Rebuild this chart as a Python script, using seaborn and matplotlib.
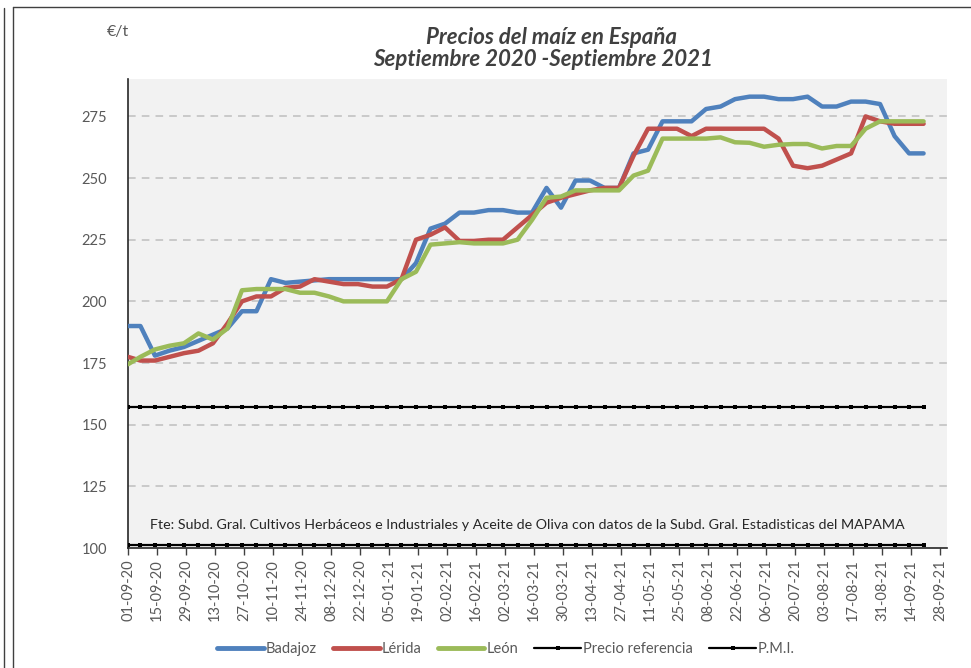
import numpy as np
import pandas as pd
import matplotlib
matplotlib.use("Agg")
import matplotlib.pyplot as plt
import matplotlib.dates as mdates
from matplotlib.lines import Line2D
import seaborn as sns
from datetime import datetime, timedelta

# ---------------- data ----------------
dates = [datetime(2020, 9, 1)] + [datetime(2020, 9, 7) + timedelta(days=7 * k) for k in range(55)]

badajoz = [190, 190, 178, 180, 181.5, 184, 186.5, 189, 196, 196,
           209, 207.5, 208, 208.5, 209, 209, 209, 209, 209, 209,
           215.5, 229.5, 231.5, 236, 236, 237, 237, 236, 236, 246,
           238, 249, 249, 246, 246, 260, 261.5, 273, 273, 273,
           278, 279, 282, 283, 283, 282, 282, 283, 279, 279,
           281, 281, 280, 267, 260, 260]

lerida = [177.5, 176, 176, 177.5, 179, 180, 183, 191, 200, 202,
          202, 205.5, 206, 209, 208, 207, 207, 206, 206, 209,
          225, 227, 230, 224.5, 224.5, 225, 225, 230, 235, 240,
          242, 243.5, 245, 246, 246, 259, 270, 270, 270, 267,
          270, 270, 270, 270, 270, 266, 255, 254, 255, 257.5,
          260, 275, 273, 272, 272, 272]

leon = [174.5, 177.5, 180.5, 182, 183, 187, 184.5, 189, 204.5, 205,
        205, 205, 203.5, 203.5, 202, 200, 200, 200, 200, 209,
        212, 223, 223.5, 224, 223.5, 223.5, 223.5, 225, 233, 242,
        242.5, 245, 245, 245, 245, 251, 253, 266, 266, 266,
        266, 266.5, 264.5, 264.3, 262.7, 263.5, 263.8, 263.8, 262, 263,
        263, 270, 273, 273, 273, 273]

precio_referencia = 157.0
pmi = 101.3

series_names = ["Badajoz", "Lérida", "León"]
series_values = [badajoz, lerida, leon]
series_colors = ["#4F81BD", "#C0504D", "#9BBB59"]

y_ticks = [100, 125, 150, 175, 200, 225, 250, 275]
x_tick_dates = [datetime(2020, 9, 1) + timedelta(days=14 * i) for i in range(29)]

title_lines = ["Precios del maíz en España", "Septiembre 2020 -Septiembre 2021"]
unit_label = "€/t"
source_text = ("Fte: Subd. Gral. Cultivos Herbáceos e Industriales y Aceite de Oliva "
               "con datos de la Subd. Gral. Estadisticas del MAPAMA")

# ---------------- figure ----------------
sns.set_style("white")
plt.rcParams["font.family"] = ["Lato", "DejaVu Sans"]
TXT = "#595959"

W, H, DPI = 971, 668, 100
fig = plt.figure(figsize=(W / DPI, H / DPI), dpi=DPI)
fig.patch.set_facecolor("white")

left, right, top, bottom = 128, 947, 79.4, 548
ax = fig.add_axes([left / W, 1 - bottom / H, (right - left) / W, (bottom - top) / H])
ax.set_facecolor("#F2F2F2")

rows = []
for name, vals in zip(series_names, series_values):
    for d, v in zip(dates, vals):
        rows.append({"fecha": d, "precio": v, "serie": name})
df = pd.DataFrame(rows)

sns.lineplot(data=df, x="fecha", y="precio", hue="serie", hue_order=series_names,
             palette=series_colors, linewidth=3.2, ax=ax, legend=False,
             estimator=None, errorbar=None, zorder=3)

ref_df = pd.DataFrame({"fecha": dates,
                       "ref": [precio_referencia] * len(dates),
                       "pmi": [pmi] * len(dates)})
sns.lineplot(data=ref_df, x="fecha", y="ref", color="black", linewidth=1.6,
             marker="s", markersize=2.6, markeredgewidth=0, ax=ax, zorder=3)
sns.lineplot(data=ref_df, x="fecha", y="pmi", color="black", linewidth=1.6,
             marker="s", markersize=2.6, markeredgewidth=0, ax=ax, zorder=3)

ax.set_ylim(100, 290)
ax.set_xlim(datetime(2020, 9, 1), datetime(2020, 9, 1) + timedelta(days=395.3))

ax.set_yticks(y_ticks)
ax.set_yticklabels([str(t) for t in y_ticks])
for t in y_ticks[1:]:
    ax.axhline(t, color="#BFBFBF", linestyle=(0, (5, 4)), linewidth=1.1, zorder=1)

ax.set_xticks(x_tick_dates)
ax.set_xticklabels([d.strftime("%d-%m-%y") for d in x_tick_dates], rotation=90)
ax.tick_params(axis="x", direction="out", length=5, width=1, color="#404040",
               labelsize=10.5, labelcolor=TXT, pad=3, bottom=True)
ax.tick_params(axis="y", length=0, labelsize=10.5, labelcolor=TXT, pad=15)

ax.set_xlabel("")
ax.set_ylabel("")
for s in ["top", "right"]:
    ax.spines[s].set_visible(False)
for s in ["left", "bottom"]:
    ax.spines[s].set_color("#262626")
    ax.spines[s].set_linewidth(1.2)

ax.text(0.487, 109.5, source_text, transform=ax.get_yaxis_transform(),
        ha="center", va="center", fontsize=10.3, color="#262626")

# titles
fig.text(551 / W, 1 - 37 / H, title_lines[0], ha="center", va="center",
         fontsize=16, fontweight="bold", fontstyle="italic", color="#404040")
fig.text(543 / W, 1 - 60 / H, title_lines[1], ha="center", va="center",
         fontsize=16, fontweight="bold", fontstyle="italic", color="#404040")
fig.text(118 / W, 1 - 32 / H, unit_label, ha="center", va="center",
         fontsize=11.5, color=TXT)

# legend
handles = [Line2D([0], [0], color=c, linewidth=3.5) for c in series_colors]
handles += [Line2D([0], [0], color="black", linewidth=1.6, marker="s",
                   markersize=2.6, markeredgewidth=0) for _ in range(2)]
labels = series_names + ["Precio referencia", "P.M.I."]
leg = fig.legend(handles, labels, loc="center", bbox_to_anchor=(506 / W, 1 - 649 / H),
                 ncol=5, frameon=False, fontsize=10.5, handlelength=3.2,
                 handletextpad=0.15, columnspacing=1.1)
for t in leg.get_texts():
    t.set_color(TXT)

# outer frames
fc = "#404040"
fig.add_artist(Line2D([3.5 / W, 3.5 / W], [0, 1 - 8 / H], transform=fig.transFigure,
                      color=fc, linewidth=1))
fig.add_artist(Line2D([12.5 / W, 12.5 / W], [0, 1 - 6.5 / H], transform=fig.transFigure,
                      color=fc, linewidth=1))
fig.add_artist(Line2D([12.5 / W, 1], [1 - 6.5 / H, 1 - 6.5 / H], transform=fig.transFigure,
                      color=fc, linewidth=1))

fig.savefig("out.png", dpi=DPI, facecolor="white")
